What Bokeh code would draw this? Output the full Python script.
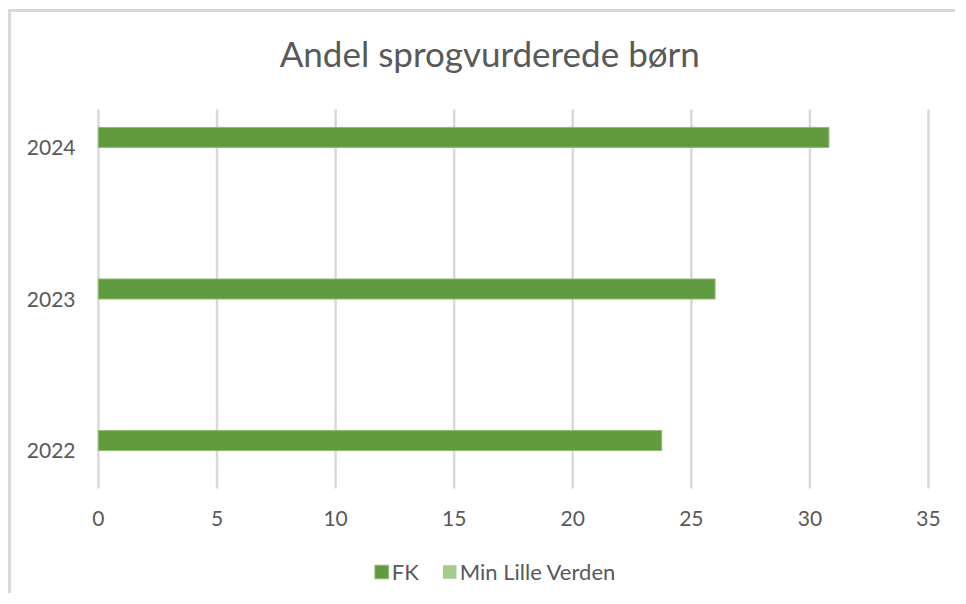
from bokeh.plotting import figure
from bokeh.models import Range1d, FixedTicker, Legend, LegendItem, ColumnDataSource, Label
from bokeh.transform import dodge
from bokeh.embed import file_html
from bokeh.resources import INLINE

# ---- data ----
title_text = "Andel sprogvurderede børn"
years = ["2022", "2023", "2024"]
fk = [23.75, 26.0, 30.8]
min_lille_verden = [0.0, 0.0, 0.0]
series_names = ["FK", "Min Lille Verden"]
x_ticks = [0, 5, 10, 15, 20, 25, 30, 35]

# ---- style ----
FONT = "Lato"
TEXT = "#595959"
FK_COLOR = "#629B3F"
FK_EDGE = "#8DBB70"
MLV_COLOR = "#A5CC8B"
GRID = "#D9D9D9"
PX_PER_CAT = 151.6   # vertical pixels per category

pos = list(range(len(years)))
band_lo = pos[0] - 0.25          # lower edge of the category area
band_hi = pos[-1] + 0.25         # upper edge of the category area
source = ColumnDataSource(dict(pos=pos, year=years, fk=fk, mlv=min_lille_verden))
grid_src = ColumnDataSource(dict(x=x_ticks,
                                 y0=[band_lo] * len(x_ticks),
                                 y1=[band_hi] * len(x_ticks)))

# the frame covers the whole canvas: title on top, category area, axis, legend row
p = figure(width=947, height=584, output_backend="svg", toolbar_location=None,
           title=None,
           x_range=Range1d(-2.4, 35.8),
           y_range=Range1d(band_lo - 108 / PX_PER_CAT, band_hi + 97 / PX_PER_CAT),
           min_border_left=30, min_border_right=11, min_border_top=0,
           min_border_bottom=0)
p.styles = {"position": "relative", "left": "8px", "top": "9px",
            "border-left": "3px solid #D9D9D9", "border-top": "3px solid #D9D9D9"}

# vertical gridlines at the x ticks, spanning the category area only
p.segment(x0="x", y0="y0", x1="x", y1="y1", source=grid_src,
          line_color=GRID, line_width=2.5)

r_fk = p.hbar(y=dodge("pos", 0.066, range=p.y_range), right="fk", left=0, height=0.132,
              source=source, fill_color=FK_COLOR, line_color=FK_EDGE, line_width=1)
r_mlv = p.hbar(y=dodge("pos", -0.066, range=p.y_range), right="mlv", left=0, height=0.132,
               source=source, fill_color=MLV_COLOR, line_color=MLV_COLOR, line_alpha=0)

legend = Legend(items=[LegendItem(label=series_names[0], renderers=[r_fk]),
                       LegendItem(label=series_names[1], renderers=[r_mlv])],
                orientation="horizontal", location="bottom_center",
                glyph_width=17, glyph_height=17, label_standoff=2, spacing=22,
                label_text_font=FONT, label_text_font_size="22px", label_text_color=TEXT,
                border_line_color=None, background_fill_alpha=0, padding=0, margin=11)
p.add_layout(legend)

title = Label(x=16.5, y=band_hi + 57 / PX_PER_CAT, text=title_text,
              text_align="center", text_baseline="alphabetic",
              text_font=FONT, text_font_size="35px", text_color=TEXT)
p.add_layout(title)

for ax in (p.xaxis[0], p.yaxis[0]):
    ax.axis_line_color = None
    ax.major_tick_line_color = None
    ax.minor_tick_line_color = None
    ax.major_tick_out = 0
    ax.major_tick_in = 0
    ax.major_label_text_font = FONT
    ax.major_label_text_font_size = "21px"
    ax.major_label_text_color = TEXT

p.xaxis.ticker = FixedTicker(ticks=x_ticks)
p.xaxis.fixed_location = band_lo
p.xaxis.major_label_standoff = 22
p.yaxis.ticker = FixedTicker(ticks=pos)
p.yaxis.major_label_overrides = {i: y for i, y in zip(pos, years)}
p.yaxis.major_label_standoff = -34

p.xgrid.grid_line_color = None
p.ygrid.grid_line_color = None
p.outline_line_color = None
p.background_fill_color = "white"
p.border_fill_color = "white"

open("out.html", "w").write(file_html(p, INLINE))
